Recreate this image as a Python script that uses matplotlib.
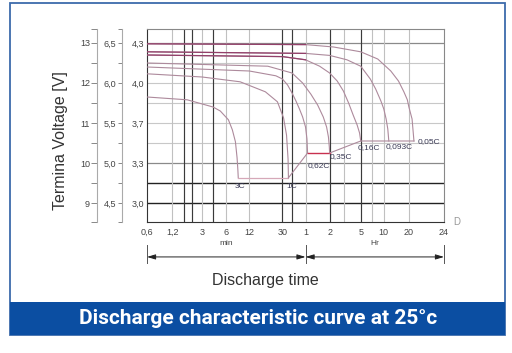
import numpy as np
import matplotlib
matplotlib.use("Agg")
import matplotlib.pyplot as plt
from matplotlib.patches import Rectangle
from matplotlib.ticker import FixedLocator

plt.rcParams['font.family'] = ['Liberation Sans', 'DejaVu Sans']

# discharge time [min] vs terminal voltage (12 V battery scale)
t_3c = [0.6, 1.9, 4.1, 5.05, 6.4, 7.2, 7.9, 8.3, 8.5, 8.6]
v_3c = [11.65, 11.58, 11.40, 11.30, 11.08, 10.83, 10.53, 10.13, 9.83, 9.63]
t_1c = [0.6, 3, 9.1, 18.7, 26.1, 31, 33.9, 35.5, 35.9]
v_1c = [12.23, 12.15, 12.03, 11.78, 11.53, 11.13, 10.70, 10.10, 9.63]
t_062c = [0.6, 12, 25, 30, 35, 40, 45, 50, 55, 60, 62.5, 63.6]
v_062c = [12.40, 12.30, 12.18, 12.10, 11.95, 11.75, 11.55, 11.35, 11.15, 10.90, 10.60, 10.25]
t_035c = [0.6, 20, 40, 55, 70, 85, 100, 110, 116, 119, 120]
v_035c = [12.50, 12.42, 12.25, 12.00, 11.72, 11.45, 11.15, 10.90, 10.65, 10.40, 10.25]
t_016c = [0.6, 30, 60, 90, 120, 150, 180, 210, 240, 270, 290, 300]
v_016c = [12.70, 12.66, 12.58, 12.42, 12.25, 12.05, 11.80, 11.50, 11.20, 10.95, 10.75, 10.55]
t_0093c = [0.6, 60, 120, 200, 300, 400, 470, 550, 600, 640, 670, 689]
v_0093c = [12.78, 12.74, 12.69, 12.58, 12.42, 12.10, 11.85, 11.55, 11.35, 11.10, 10.85, 10.55]
t_005c = [0.6, 60, 135, 300, 500, 728, 900, 1045, 1150, 1200, 1220, 1232]
v_005c = [12.98, 12.96, 12.90, 12.78, 12.60, 12.30, 12.05, 11.78, 11.58, 11.40, 11.10, 10.55]
rates = ['3C', '1C', '0.62C', '0.35C', '0.16C', '0.093C', '0.05C']

# end-of-discharge line
t_end = [8.6, 35.9, 63.6, 120, 300, 1232]
v_end = [9.63, 9.63, 10.25, 10.25, 10.55, 10.55]

# axis ticks
x_ticks = [0.6, 1.2, 3, 6, 12, 30, 60, 120, 300, 600, 1200, 1440]
x_labels = ['0,6', '1,2', '3', '6', '12', '30', '1', '2', '5', '10', '20', '24']
v12_ticks = [13, 12, 11, 10, 9]
v12_labels = ['13', '12', '11', '10', '9']
v6_ticks = [6.5, 6.0, 5.5, 5.0, 4.5]
v6_labels = ['6,5', '6,0', '5,5', '5,0', '4,5']
cell_labels = ['4,3', '4,0', '3,7', '3,3', '3,0']

# grid
h_dark = [9.0, 9.5]
h_mid = [10.0, 13.0]
h_light = [10.5, 11.0, 11.5, 12.0, 12.5]
x_dark = [1.73, 2.21, 4.12, 30, 40.5, 120, 300]
x_light = [1.2, 3, 6, 12, 60, 185, 420, 600, 1200]

# printed chart's time axis is log-ish, stretched at the end
pos = [0, 25, 55, 79, 102, 135, 158, 182, 213, 236, 261, 296]
lx = np.log10(x_ticks)


def fwd(x):
    l = np.log10(np.clip(np.asarray(x, float), 1e-9, None))
    p = np.interp(l, lx, pos)
    p = np.where(l < lx[0], pos[0] + (l - lx[0]) * 83, p)
    p = np.where(l > lx[-1], pos[-1] + (l - lx[-1]) * 83, p)
    return p


def inv(p):
    p = np.asarray(p, float)
    l = np.interp(p, pos, lx)
    l = np.where(p < pos[0], lx[0] + (p - pos[0]) / 83, l)
    l = np.where(p > pos[-1], lx[-1] + (p - pos[-1]) / 83, l)
    return 10 ** l


fig = plt.figure(figsize=(5.12, 3.53), dpi=100)
fig.patch.set_facecolor('white')

# frame + banner
fig.patches.append(Rectangle((10 / 512, 18 / 353), 495 / 512, 332 / 353, transform=fig.transFigure,
                             fill=False, edgecolor='#3d6bab', lw=1.3, zorder=0))
fig.patches.append(Rectangle((10 / 512, 18 / 353), 495 / 512, 33 / 353, transform=fig.transFigure,
                             facecolor='#0b4ea2', edgecolor='none', zorder=1))
fig.text(258 / 512, (353 - 319) / 353, 'Discharge characteristic curve at 25°c', color='white',
         fontsize=15, fontweight='bold', family=['Roboto', 'DejaVu Sans'], ha='center', va='center')

ax = fig.add_axes([147 / 512, 131 / 353, 297 / 512, 193 / 353])
ax.set_xscale('function', functions=(fwd, inv))
ax.set_xlim(0.6, 1440)
ax.set_ylim(8.525, 13.35)

for v in h_light:
    ax.axhline(v, color='#c8c8c8', lw=0.8, zorder=1)
for v in h_mid:
    ax.axhline(v, color='#8a8a8a', lw=0.9, zorder=1)
for v in h_dark:
    ax.axhline(v, color='#222222', lw=1.0, zorder=1)
for t in x_light:
    ax.axvline(t, color='#c0c0c0', lw=0.8, zorder=1)
for t in x_dark:
    ax.axvline(t, color='#3a3a3a', lw=0.85, zorder=1)

curves = [(t_3c, v_3c), (t_1c, v_1c), (t_062c, v_062c), (t_035c, v_035c),
          (t_016c, v_016c), (t_0093c, v_0093c), (t_005c, v_005c)]
for t, v in curves:
    ax.plot(t, v, color='#ad8a9c', lw=0.8, zorder=3)
# darker flat start on the low rates
for t, v in curves[4:]:
    n = sum(1 for x in t if x <= 40) + 1
    ax.plot(t[:n], v[:n], color='#93406a', lw=0.9, zorder=3)

ax.plot(t_end[:2], v_end[:2], color='#d6a8b8', lw=0.9, zorder=3)
ax.plot(t_end[1:3], v_end[1:3], color='#ad8a9c', lw=0.8, zorder=3)
ax.plot(t_end[2:4], v_end[2:4], color='#c8314f', lw=1.0, zorder=3)
ax.plot(t_end[3:], v_end[3:], color='#ad8a9c', lw=0.8, zorder=3)

offsets = [(2, -9), (3, -9), (11, -13), (11, -4), (8, -7), (10, -6), (15, -1)]
for (t, v), name, off in zip(curves, rates, offsets):
    ax.annotate(name.replace('.', ','), (t[-1], v[-1]), xytext=off, textcoords='offset pixels',
                ha='center', va='center', fontsize=6, color='#3a3a55', zorder=4)

for s in ['top', 'right']:
    ax.spines[s].set_color('#888888')
for s in ['left', 'bottom']:
    ax.spines[s].set_color('#333333')

ax.set_xticks(x_ticks, labels=x_labels)
ax.xaxis.set_minor_locator(FixedLocator([]))
ax.tick_params(axis='x', length=0, pad=4, labelsize=6.5, labelcolor='#444444')
ax.set_yticks(v12_ticks, labels=cell_labels)
ax.tick_params(axis='y', length=0, pad=2, labelsize=6.5, labelcolor='#444444')

sec12 = ax.secondary_yaxis(-50 / 297)
sec12.set_yticks(v12_ticks, labels=v12_labels)
sec12.yaxis.set_minor_locator(FixedLocator([8.525, 9.5, 10.5, 11.5, 12.5, 13.35]))
sec12.tick_params(which='both', length=4, width=0.7, color='#888888', pad=1, labelsize=6.5, labelcolor='#444444')
sec12.spines['left'].set_color('#aaaaaa')

sec6 = ax.secondary_yaxis(-25 / 297, functions=(lambda v: v / 2, lambda v: v * 2))
sec6.set_yticks(v6_ticks, labels=v6_labels)
sec6.yaxis.set_minor_locator(FixedLocator([4.2625, 4.75, 5.25, 5.75, 6.25, 6.675]))
sec6.tick_params(which='both', length=3, width=0.7, color='#888888', pad=1, labelsize=6.5, labelcolor='#444444')
sec6.spines['left'].set_color('#aaaaaa')

# min / Hr dimension arrows
xt = ax.get_xaxis_transform()
for a in [0.6, 60, 1440]:
    ax.plot([a, a], [-0.12, -0.215], transform=xt, color='#555555', lw=0.7, clip_on=False)
for a, b, txt in [(0.6, 60, 'min'), (60, 1440, 'Hr')]:
    ax.annotate('', xy=(a, -0.181), xytext=(b, -0.181), xycoords=xt, textcoords=xt,
                arrowprops=dict(arrowstyle='<|-|>,head_length=0.5,head_width=0.15', color='#222222', lw=0.7,
                                shrinkA=0, shrinkB=0), annotation_clip=False)
    mid = inv((fwd(a) + fwd(b)) / 2)
    ax.text(mid, -0.112, txt, transform=xt, ha='center', va='center', fontsize=6, color='#444444')

fig.text(265 / 512, (353 - 281) / 353, 'Discharge time', fontsize=11.5, color='#333333', ha='center', va='center')
fig.text(60 / 512, (353 - 141) / 353, 'Termina Voltage [V]', fontsize=11.5, color='#333333',
         rotation=90, ha='center', va='center')
fig.text(457 / 512, (353 - 222) / 353, 'D', fontsize=7, color='#999999', ha='center', va='center')

fig.savefig('out.png', dpi=100)
